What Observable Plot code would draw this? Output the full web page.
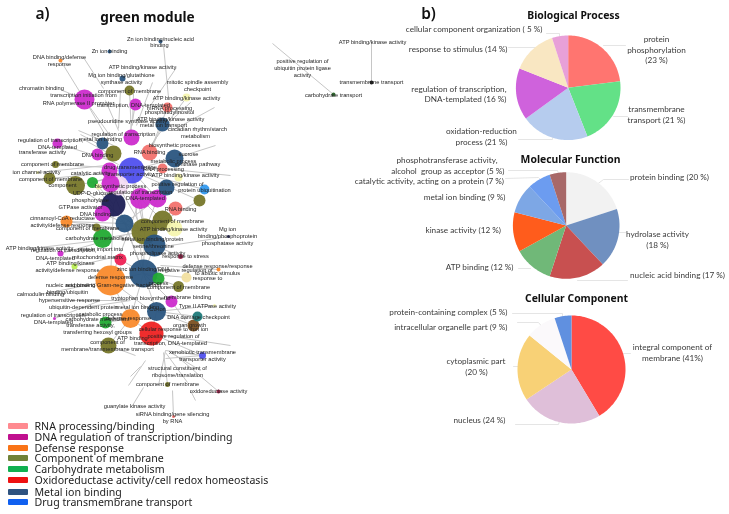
<!DOCTYPE html>
<html>
<head>
<meta charset="utf-8">
<script src="https://cdn.jsdelivr.net/npm/d3@7"></script>
<script src="https://cdn.jsdelivr.net/npm/@observablehq/plot@0.6"></script>
<style>
html,body{margin:0;padding:0;background:#fff}
svg{display:block;filter:blur(.35px)}
</style>
</head>
<body>
<div id="chart"></div>
<script>
// ---------- network nodes: x, y, r, group ----------
const nodes = [
[131,150,19,"white"],[118,185,10,"blush"],
[160,41,2,"metal"],[109,51,2,"metal"],[60,60,2,"defense"],[122,78,3,"metal"],[129,90,5,"membrane"],
[84,99,10,"dna"],[135,104,6,"dna"],[186,97,4,"pale"],[167,107,5,"rna"],[162,124,7,"metal"],
[131,137,8,"dna"],[57,143,5,"dna"],[102,143,6,"metal"],[113,153,8,"membrane"],[149,152,8,"rna"],
[97,154,6,"dna"],[174,158,9,"metal"],[55,164,3.5,"membrane"],[109,170,8,"dna"],[131,170,13,"drug"],
[162,168,5,"rna"],[37,172,1.5,"pale"],[49,178,6,"membrane"],[75,185,9.5,"membrane"],[92,182,5.5,"carb"],
[98,186,3,"pale"],[178,177,4,"pale"],[166,187,8,"metal"],[204,189,5,"sky"],[110,183,9,"dna"],
[140,198,10.5,"dna"],[157,198,9,"dna"],[199,200,6,"membrane"],[102,213,8,"dna"],[113,204,12,"deep"],
[175,208,7,"rna"],[66,221,6,"defense"],[124,223,9,"metal"],[162,220,10,"membrane"],[144,231,13,"membrane"],
[174,228,8,"pale"],[96,227,4,"membrane"],[102,238,9.5,"carb"],[154,245,11,"metal"],[60,253,3,"dna"],
[180,256,2.5,"wine"],[120,259,6,"crimson"],[74,266,3,"lime"],[143,273,14,"metal"],[110,280,15,"defense"],
[158,278,6,"carb"],[186,277,5,"cream"],[218,269,2,"defense"],[178,286,5.5,"membrane"],[171,301,6,"dna"],
[156,311,9.5,"metal"],[214,305,1.5,"pale"],[197,316,5,"teal"],[54,318,1.5,"dna"],[130,318,9.5,"defense"],
[105,322,6,"carb"],[193,325,6,"brown"],[151,333,12,"redox"],[108,345,8,"membrane"],[202,355,3.5,"drug"],
[167,384,2.5,"membrane"],[218,391,2,"wine"],[228,236,1.5,"deep"],[173,416,1.5,"rna"],
[371,82,2,"black"],[333,94,2,"forest"]
];
const groupColors = {
rna:"#f2726e",dna:"#cc2ccc",defense:"#f98a2c",membrane:"#77772a",carb:"#22aa33",redox:"#ee2222",
metal:"#2a5580",drug:"#5050ee",pale:"#f6f6b0",sky:"#3399ee",deep:"#1e1f55",wine:"#a0204a",crimson:"#ee2255",
lime:"#bbee55",cream:"#f2e0a0",teal:"#1f7a7a",brown:"#7a5020",black:"#111111",forest:"#2a6a2a",white:"#ffffff",blush:"#f3dcf3"
};

// ---------- network edges: x1, y1, x2, y2 ----------
const edges = [
[163,45,168,97],[60,60,84,99],[83,57,103,88],[176,67,150,105],[152,82,136,125],[120,90,118,128],[133,93,132,125],
[214,107,172,130],[190,102,160,130],[62,90,84,99],[84,99,105,135],[84,99,120,150],[135,104,128,140],[105,100,118,130],
[78,130,125,150],[80,134,125,158],[85,140,130,165],[57,143,110,160],[55,164,125,168],[37,172,105,165],[49,178,110,172],
[75,185,125,175],[92,182,131,170],[131,170,174,158],[131,170,162,168],[131,170,204,189],[131,170,199,200],[162,168,230,175],
[174,158,215,145],[131,137,149,152],[149,152,131,170],[131,170,140,198],[131,170,157,198],[113,204,131,170],[102,213,144,231],
[66,221,124,223],[66,221,144,231],[96,227,144,231],[102,238,144,231],[60,253,124,235],[30,248,100,240],[74,266,120,255],
[140,198,144,231],[157,198,144,231],[162,220,144,231],[175,208,144,231],[199,200,154,225],[174,228,144,231],[144,231,143,273],
[154,245,143,273],[120,259,143,273],[110,280,143,273],[158,278,143,273],[186,277,143,273],[178,286,143,273],[218,269,160,265],
[228,236,170,245],[180,256,154,245],[143,273,156,311],[143,273,171,301],[143,273,130,318],[110,280,130,318],[110,280,150,310],
[40,294,110,280],[69,300,125,300],[83,307,130,300],[54,318,100,300],[105,322,130,318],[108,345,130,318],[130,318,151,333],
[151,333,156,311],[156,311,197,316],[156,311,193,325],[156,311,214,305],[171,301,185,320],[151,333,202,355],[151,333,230,345],
[108,345,135,355],[165,350,158,385],[167,384,163,352],[202,355,165,350],[202,355,165,358],[140,366,130,376],[145,360,128,385],
[165,352,187,382],[143,387,132,405],[172,390,173,416],[190,390,195,400],[172,352,218,391],[170,352,200,370],
[371,42,371,82],[272,43,333,94],
[131,170,144,231],[109,170,144,231],[110,183,143,273],[131,170,143,273],[140,198,110,280],[124,223,143,273],[113,204,110,280],
[124,223,154,245],[140,198,162,220],[157,198,124,223],[75,185,144,231],[92,182,124,223],[98,186,113,204],[102,143,131,170],
[97,154,131,170],[113,153,131,170],[162,124,149,152],[167,107,149,152],[129,90,131,137],[186,97,150,145]
];

// ---------- network labels: x, y, text ----------
const labels = [
[160,39,"Zn ion binding/nucleic acid"],[159,45,"binding"],[109,51,"Zn ion binding"],[59,57,"DNA binding/defense"],[59,64,"response"],
[142,67,"ATP binding/kinase activity"],[121,75,"Mg ion binding/glutathione"],[121,82,"synthase activity"],[197,82,"mitotic spindle assembly"],[197,89,"checkpoint"],
[41,88,"chromatin binding"],[129,91,"component of membrane"],[83,95,"transcription initiation from"],[186,98,"ATP binding/kinase activity"],[78,103,"RNA polymerase II promoter"],
[133,105,"transcription, DNA-templated"],[169,108,"mRNA processing"],[169,112,"phosphatidylinositol"],[127,121,"pseudouridine synthase activity"],[170,119,"ATP binding/kinase activity"],
[163,125,"metal ion transport"],[197,129,"circadian rhythm/starch"],[195,136,"metabolism"],[123,134,"regulation of transcription"],[50,140,"regulation of transcription,"],
[100,139,"metal ion binding"],[57,147,"DNA-templated"],[174,145,"biosynthetic process"],[42,152,"transferase activity"],[97,155,"DNA binding"],
[149,152,"RNA binding"],[188,154,"sucrose"],[173,161,"metabolic process"],[52,164,"component of membrane"],[197,164,"synthase pathway"],
[130,167,"drug transmembrane"],[163,169,"RNA processing"],[36,172,"ion channel activity"],[90,173,"catalytic activity"],[130,174,"transporter activity"],
[185,175,"ATP binding/kinase activity"],[50,179,"component of membrane"],[62,185,"component"],[177,184,"positive regulation of"],[204,190,"protein ubiquitination"],
[92,193,"UDP-D-glucose"],[120,186,"biosynthetic process"],[140,192,"regulation of transcription"],[90,200,"phosphorylase"],[145,198,"DNA-templated"],
[80,207,"GTPase activator"],[95,214,"DNA binding"],[180,209,"RNA binding"],[62,218,"cinnamoyl-CoA reductase"],[172,221,"component of membrane"],
[62,225,"activity/defense response"],[87,228,"component of membrane"],[173,229,"ATP binding/kinase activity"],[227,229,"Mg ion"],[227,236,"binding/phosphoprotein"],
[97,238,"carbohydrate metabolism"],[152,239,"metal ion binding/protein"],[227,243,"phosphatase activity"],[153,246,"serine/threonine"],[39,248,"ATP binding/kinase activity"],
[63,250,"regulation of transcription,"],[100,249,"protein import into"],[157,253,"phospholipase activity"],[185,256,"response to stress"],[55,258,"DNA-templated"],
[97,257,"mitochondrial matrix"],[70,263,"ATP binding/kinase"],[217,266,"defense response/response"],[143,269,"zinc ion binding/DNA"],[67,270,"activity/defense response"],
[185,270,"negative regulation of"],[217,273,"to abiotic stimulus"],[110,277,"defense response"],[207,278,"response to"],[158,283,"process"],
[70,285,"nucleic acid binding"],[113,285,"response to Gram-negative bacterium"],[178,287,"component of membrane"],[67,292,"binding/ubiquitin"],[40,294,"calmodulin binding"],
[187,297,"membrane binding"],[69,300,"hypersensitive response"],[140,298,"tryptophan biosynthetic"],[207,306,"Type II ATPase activity"],[83,307,"ubiquitin-dependent protein"],
[137,307,"metal ion binding"],[157,309,"Cu ion"],[100,314,"catabolic process"],[53,315,"regulation of transcription,"],[198,317,"DNA damage checkpoint"],
[128,318,"defense response"],[97,319,"carbohydrate metabolism"],[53,322,"DNA-templated"],[90,325,"transferase activity,"],[189,325,"organ growth"],
[173,329,"cellular response to iron ion"],[97,332,"transferring hexosyl groups"],[173,336,"positive regulation of"],[132,338,"ATP binding"],[107,342,"component of"],
[170,343,"transcription, DNA-templated"],[107,349,"membrane/transmembrane transport"],[202,352,"xenobiotic transmembrane"],[202,359,"transporter activity"],[177,368,"structural constituent of"],
[177,375,"ribosome/translation"],[167,384,"component of membrane"],[218,391,"oxidoreductase activity"],[134,406,"guanylate kinase activity"],[172,414,"siRNA binding/gene silencing"],
[172,421,"by RNA"],[372,42,"ATP binding/kinase activity"],[302,61,"positive regulation of"],[302,68,"ubiquitin protein ligase"],[302,75,"activity"],
[371,82,"transmembrane transport"],[333,95,"carbohydrate transport"]
];

// ---------- legend ----------
const legendNames = ["RNA processing/binding","DNA regulation of transcription/binding","Defense response","Component of membrane","Carbohydrate metabolism","Oxidoreductase activity/cell redox homeostasis","Metal ion binding","Drug transmembrane transport"];
const legendColors = ["#ff8a90","#c0108f","#f97316","#708238","#10b050","#ee1111","#2f5380","#1060f0"];
const legendY = [426,437,448,458,469,480,492,502];

// ---------- pies ----------
const bioLabels = ["protein phosphorylation","transmembrane transport","oxidation-reduction process","regulation of transcription, DNA-templated","response to stimulus","cellular component organization"];
const bioValues = [23,21,21,16,14,5];
const bioColors = ["#ff7570","#63e187","#b6ccee","#cf62dc","#f9e7c2","#e8a0d8"];
const molLabels = ["protein binding","hydrolase activity","nucleic acid binding","ATP binding","kinase activity","metal ion binding","catalytic activity, acting on a protein","phosphotransferase activity"];
const molValues = [20,18,17,12,12,9,7,5];
const molColors = ["#f2f2f2","#7090c0","#c85050","#70b878","#ff5c1c","#7da7e5","#6c9cf0","#a86868"];
const celLabels = ["integral component of membrane","nucleus","cytoplasmic part","intracellular organelle part","protein-containing complex"];
const celValues = [41,24,20,9,5];
const celColors = ["#ff4b45","#dfbfd9","#f8d176","#fbf9fb","#6090e0"];
const pieCenters = [[567.7,87.3,52.3],[565.7,225,53.3],[571,369,54]];

function slices(name, values, colors, [cx, cy, r]) {
  const arcs = d3.pie().sort(null)(values);
  const pts = [];
  arcs.forEach((a, i) => {
    const id = name + i;
    pts.push({id, x: cx, y: cy, color: colors[i]});
    const n = Math.max(2, Math.ceil((a.endAngle - a.startAngle) / 0.03));
    d3.range(n + 1).forEach(k => {
      const t = a.startAngle + (a.endAngle - a.startAngle) * k / n;
      pts.push({id, x: cx + r * Math.sin(t), y: cy - r * Math.cos(t), color: colors[i]});
    });
    pts.push({id, x: cx, y: cy, color: colors[i]});
  });
  return pts;
}
const pieData = [
  ...slices("bio", bioValues, bioColors, pieCenters[0]),
  ...slices("mol", molValues, molColors, pieCenters[1]),
  ...slices("cel", celValues, celColors, pieCenters[2])
];

const pieTextEnd = [
[542,29,"cellular component organization ( 5 %)"],[507,49,"response to stimulus (14 %)"],[506,89,"regulation of transcription,"],[506,99,"DNA-templated (16 %)"],
[497,160,"phosphotransferase activity,"],[504,171,"alcohol  group as acceptor (5 %)"],[503.5,181,"catalytic activity, acting on a protein (7 %)"],[505,197,"metal ion binding (9 %)"],
[500.5,230,"kinase activity (12 %)"],[513,267,"ATP binding (12 %)"],[507,312,"protein-containing complex (5 %)"],[507,327,"intracellular organelle part (9 %)"],[505,361,"cytoplasmic part"]
];
const pieTextMid = [
[481,131,"oxidation-reduction"],[481,142,"process (21 %)"],[656,39,"protein"],[656,50,"phosphorylation"],[656,60,"(23 %)"],[656,109,"transmembrane"],[656,120,"transport (21 %)"],
[669,177,"protein binding (20 %)"],[657,234,"hydrolase activity"],[657,245,"(18 %)"],[677,275,"nucleic acid binding (17 %)"],
[476,372,"(20 %)"],[479,420,"nucleus (24 %)"],[672,347,"integral component of"],[672,358,"membrane (41%)"]
];
const leaders = [
[[546,33],[559,33],[559,40]],[[508,47],[535,47],[535,53]],[[516,93],[520,93]],[[518,139],[552,139],[553,132]],[[603,45],[625,45]],[[608,112],[613,116],[627,116]],
[[595,185],[603,179],[628,179]],[[617,232],[625,232]],[[577,280],[627,280]],[[518,268],[530,268]],[[508,170],[557,170],[558,173]],[[505,178],[538,177],[540,179]],
[[512,313],[562,313],[562,316]],[[517,322],[538,322],[543,328]],[[513,366],[523,366]],[[515,424],[558,424],[560,417]],[[630,353],[623,353]]
];
const leaderPts = leaders.flatMap((l, i) => l.map(([x, y]) => ({i, x, y})));

const panelTitles = [[42,14,"a)"],[428,14,"b)"]];
const mainTitle = [[147,17,"green module"]];
const pieTitles = [[573,15,"Biological Process"],[570,159,"Molecular Function"],[576,298,"Cellular Component"]];

const netFont = "Liberation Sans";
const pieFont = "Lato";
const legendFont = "Noto Sans";

const chart = Plot.plot({
  width: 729, height: 514, margin: 0,
  x: {domain: [0, 729], range: [0, 729], axis: null},
  y: {domain: [0, 514], range: [0, 514], axis: null},
  r: {type: "identity"},
  color: {type: "identity"},
  style: {background: "#fff"},
  marks: [
    Plot.link(edges, {x1: d => d[0], y1: d => d[1], x2: d => d[2], y2: d => d[3], stroke: "#c6c6c6", strokeWidth: 1}),
    Plot.dot(nodes, {x: d => d[0], y: d => d[1], r: d => d[2], fill: d => groupColors[d[3]], fillOpacity: 0.95, stroke: "none"}),
    Plot.text(labels, {x: d => d[0], y: d => d[1], text: d => d[2], fontFamily: netFont, fontSize: 5.7, fill: "#222"}),
    Plot.rect(legendNames, {x1: () => 8, x2: () => 28, y1: (d, i) => legendY[i] - 3, y2: (d, i) => legendY[i] + 3, fill: (d, i) => legendColors[i], rx: 1}),
    Plot.text(legendNames, {x: () => 34, y: (d, i) => legendY[i], text: d => d, textAnchor: "start", fontFamily: legendFont, fontSize: 10.6, fill: "#222"}),
    Plot.line(leaderPts, {x: "x", y: "y", z: "i", stroke: "#dedede", strokeWidth: 0.8}),
    Plot.line(pieData, {x: "x", y: "y", z: "id", fill: "color", stroke: null, curve: "linear"}),
    Plot.text(pieTextEnd, {x: d => d[0], y: d => d[1], text: d => d[2], textAnchor: "end", fontFamily: pieFont, fontSize: 8.2, fill: "#3a3a3a"}),
    Plot.text(pieTextMid, {x: d => d[0], y: d => d[1], text: d => d[2], fontFamily: pieFont, fontSize: 8.2, fill: "#3a3a3a"}),
    Plot.text(panelTitles, {x: d => d[0], y: d => d[1], text: d => d[2], fontSize: 15.5, fontWeight: 600, fontFamily: "Noto Sans", fill: "#111"}),
    Plot.text(mainTitle, {x: d => d[0], y: d => d[1], text: d => d[2], fontSize: 13.6, fontWeight: 700, fontFamily: "Noto Sans", fill: "#111"}),
    Plot.text(pieTitles, {x: d => d[0], y: d => d[1], text: d => d[2], fontSize: 10.4, fontWeight: 700, fontFamily: "Noto Sans", fill: "#111"})
  ]
});
document.getElementById("chart").appendChild(chart);
</script>
</body>
</html>
